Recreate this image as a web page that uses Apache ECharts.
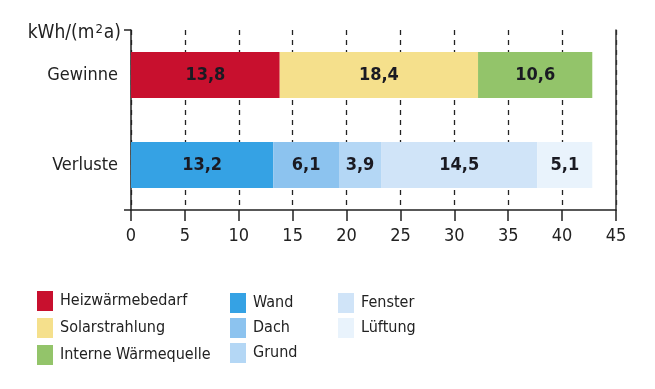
<!DOCTYPE html>
<html><head><meta charset="utf-8">
<script src="https://cdn.jsdelivr.net/npm/echarts@6/dist/echarts.min.js"></script>
<style>html,body{margin:0;padding:0;background:#fff}#c{width:655px;height:389px}</style>
</head><body><div id="c"></div>
<script>
const categories = ['Gewinne', 'Verluste'];
const unitParts = ['kWh/(m', '2', 'a)'];
const xTicks = [0, 5, 10, 15, 20, 25, 30, 35, 40, 45];
const gainNames = ['Heizwärmebedarf', 'Solarstrahlung', 'Interne Wärmequelle'];
const gainValues = [13.8, 18.4, 10.6];
const lossNames = ['Wand', 'Dach', 'Grund', 'Fenster', 'Lüftung'];
const lossValues = [13.2, 6.1, 3.9, 14.5, 5.1];

const gainColors = ['#c8102e', '#f5e08c', '#93c46a'];
const lossColors = ['#35a2e4', '#8cc3ef', '#b4d7f5', '#d0e4f8', '#e9f3fc'];
const FONT = '"Liberation Sans Narrow", "DejaVu Sans Condensed", "Liberation Sans", sans-serif';

const series = [];
gainNames.forEach((n, i) => series.push({name: n, value: gainValues[i], row: 0, color: gainColors[i]}));
lossNames.forEach((n, i) => series.push({name: n, value: lossValues[i], row: 1, color: lossColors[i]}));

const chart = echarts.init(document.getElementById('c'), null, {renderer: 'canvas'});
const legendBase = {
  orient: 'vertical', icon: 'rect', itemWidth: 16, itemHeight: 20, itemGap: 7, padding: 0,
  textStyle: {fontFamily: FONT, fontSize: 16, color: '#222', padding: [0, 0, 0, 2]}, selectedMode: false
};
chart.setOption({
  animation: false,
  textStyle: {fontFamily: FONT},
  grid: {left: 131, right: 39, top: 30, bottom: 179},
  xAxis: {
    type: 'value', min: 0, max: 45, interval: 5,
    axisLine: {show: true, lineStyle: {color: '#222', width: 1.5}},
    axisTick: {show: true, length: 11, lineStyle: {color: '#222', width: 1.5}},
    axisLabel: {margin: 17, fontSize: 18, color: '#222', fontFamily: FONT,
      formatter: v => xTicks.includes(v) ? String(v) : ''},
    splitLine: {show: true, lineStyle: {color: '#222', width: 1.3, type: [5, 5]}}
  },
  yAxis: [{
    type: 'category', data: categories, inverse: true,
    axisLine: {show: true, lineStyle: {color: '#222', width: 1.5}},
    axisTick: {show: false},
    axisLabel: {margin: 13, fontSize: 18, color: '#222', fontFamily: FONT}
  }, {
    type: 'category', data: categories, inverse: true, position: 'right',
    axisLine: {show: true, lineStyle: {color: '#333', width: 1.5}},
    axisTick: {show: false}, axisLabel: {show: false}
  }],
  legend: [
    Object.assign({}, legendBase, {left: 37, top: 291, data: gainNames}),
    Object.assign({}, legendBase, {left: 230, top: 293, itemGap: 5, data: ['Wand', 'Dach', 'Grund']}),
    Object.assign({}, legendBase, {left: 338, top: 293, itemGap: 5, data: ['Fenster', 'Lüftung']})
  ],
  graphic: [
    {type: 'text', x: 121, y: 33,
      style: {
        text: '{n|' + unitParts[0] + '}{s|' + unitParts[1] + '}{n|' + unitParts[2] + '}',
        align: 'right', verticalAlign: 'middle',
        rich: {
          n: {font: '19px ' + FONT, fill: '#222', color: '#222'},
          s: {font: '13px ' + FONT, fill: '#222', color: '#222', padding: [0, 1, 6, 1]}
        }
      }},
    {type: 'line', shape: {x1: 124, y1: 30, x2: 131, y2: 30}, style: {stroke: '#222', lineWidth: 1.5}},
    {type: 'line', shape: {x1: 124, y1: 210, x2: 131, y2: 210}, style: {stroke: '#222', lineWidth: 1.5}}
  ],
  series: series.map(s => ({
    type: 'bar', name: s.name, stack: 'total', barWidth: 46,
    itemStyle: {color: s.color},
    label: {show: true, position: 'inside', fontSize: 18, fontWeight: 'bold', color: '#1a1a22', fontFamily: FONT,
      formatter: p => String(p.value).replace('.', ',')},
    data: categories.map((c, i) => i === s.row ? s.value : '-')
  }))
});
</script></body></html>
